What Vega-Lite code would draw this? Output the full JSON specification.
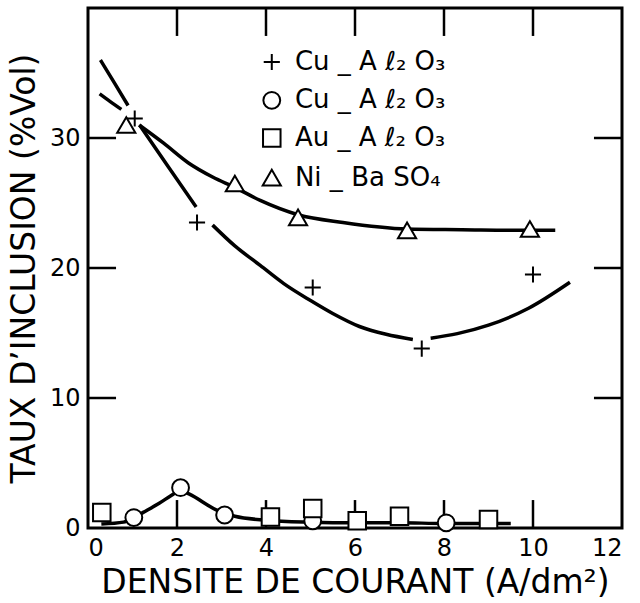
{
  "$schema": "https://vega.github.io/schema/vega-lite/v6.json",
  "width": 534,
  "height": 520,
  "autosize": {"type": "none"},
  "padding": {"left": 88, "top": 8, "right": 18, "bottom": 75},
  "background": "white",
  "config": {
    "font": "DejaVu Sans",
    "view": {"stroke": "black", "strokeWidth": 3},
    "axis": {
      "domain": false,
      "grid": false,
      "ticks": false,
      "labelPadding": 8,
      "labelColor": "black",
      "labelFont": "DejaVu Sans",
      "labelFontSize": 24,
      "labelFontWeight": "normal",
      "titleColor": "black",
      "titleFont": "DejaVu Sans",
      "titleFontSize": 33,
      "titleFontWeight": "normal"
    },
    "text": {"font": "DejaVu Sans", "fontSize": 26, "color": "black", "align": "left", "baseline": "middle"},
    "point": {"filled": false, "color": "black", "fill": "white", "strokeWidth": 2, "opacity": 1}
  },
  "datasets": {
    "pts": [
      {"s": "p", "x": 1.05, "y": 31.5},
      {"s": "p", "x": 2.45, "y": 23.5},
      {"s": "p", "x": 5.05, "y": 18.5},
      {"s": "p", "x": 7.5, "y": 13.8},
      {"s": "p", "x": 10.0, "y": 19.5},
      {"s": "c", "x": 1.03, "y": 0.8},
      {"s": "c", "x": 2.08, "y": 3.1},
      {"s": "c", "x": 3.07, "y": 1.0},
      {"s": "c", "x": 5.05, "y": 0.55},
      {"s": "c", "x": 8.05, "y": 0.4},
      {"s": "s", "x": 0.31, "y": 1.2},
      {"s": "s", "x": 4.1, "y": 0.85},
      {"s": "s", "x": 5.05, "y": 1.5},
      {"s": "s", "x": 6.05, "y": 0.55},
      {"s": "s", "x": 7.0, "y": 0.9},
      {"s": "s", "x": 9.0, "y": 0.65},
      {"s": "t", "x": 0.86, "y": 31.0},
      {"s": "t", "x": 3.3, "y": 26.5},
      {"s": "t", "x": 4.72, "y": 23.9},
      {"s": "t", "x": 7.17, "y": 22.9},
      {"s": "t", "x": 9.93, "y": 23.0}
    ],
    "leg": [
      {"s": "p", "label": "Cu _ A ℓ₂ O₃", "x": 4.13, "tx": 4.65, "y": 35.85},
      {"s": "c", "label": "Cu _ A ℓ₂ O₃", "x": 4.13, "tx": 4.65, "y": 32.9},
      {"s": "s", "label": "Au _ A ℓ₂ O₃", "x": 4.13, "tx": 4.65, "y": 30.0},
      {"s": "t", "label": "Ni _ Ba SO₄", "x": 4.13, "tx": 4.65, "y": 26.95}
    ],
    "crv": [
      {"g": "p1", "x": 0.28, "y": 36.0},
      {"g": "p1", "x": 0.6, "y": 34.2},
      {"g": "p1", "x": 0.9, "y": 32.5},
      {"g": "p2", "x": 1.16, "y": 31.0},
      {"g": "p2", "x": 1.8, "y": 27.8},
      {"g": "p2", "x": 2.43, "y": 24.7},
      {"g": "p3", "x": 2.8, "y": 23.3},
      {"g": "p3", "x": 3.3, "y": 21.7},
      {"g": "p3", "x": 3.87, "y": 20.2},
      {"g": "p3", "x": 4.4, "y": 18.8},
      {"g": "p3", "x": 5.0, "y": 17.5},
      {"g": "p3", "x": 5.5, "y": 16.5},
      {"g": "p3", "x": 6.1, "y": 15.5},
      {"g": "p3", "x": 6.7, "y": 14.9},
      {"g": "p3", "x": 7.3, "y": 14.5},
      {"g": "p4", "x": 7.7, "y": 14.6},
      {"g": "p4", "x": 8.3, "y": 14.95},
      {"g": "p4", "x": 9.0, "y": 15.6},
      {"g": "p4", "x": 9.9, "y": 16.9},
      {"g": "p4", "x": 10.83, "y": 18.9},
      {"g": "t1", "x": 0.26, "y": 33.4},
      {"g": "t1", "x": 0.5, "y": 32.8},
      {"g": "t1", "x": 0.75, "y": 32.2},
      {"g": "t2", "x": 1.15, "y": 31.0},
      {"g": "t2", "x": 1.7, "y": 29.6},
      {"g": "t2", "x": 2.25, "y": 28.1},
      {"g": "t2", "x": 2.8, "y": 27.0},
      {"g": "t2", "x": 3.3, "y": 26.2},
      {"g": "t2", "x": 3.87, "y": 25.2},
      {"g": "t2", "x": 4.72, "y": 24.1},
      {"g": "t2", "x": 5.73, "y": 23.5},
      {"g": "t2", "x": 7.17, "y": 23.0},
      {"g": "t2", "x": 8.4, "y": 22.95},
      {"g": "t2", "x": 9.93, "y": 22.9},
      {"g": "t2", "x": 10.5, "y": 22.9},
      {"g": "b", "x": 0.3, "y": 0.3},
      {"g": "b", "x": 0.8, "y": 0.45},
      {"g": "b", "x": 1.03, "y": 0.8},
      {"g": "b", "x": 1.24, "y": 1.2},
      {"g": "b", "x": 1.6, "y": 1.9},
      {"g": "b", "x": 1.87, "y": 2.5},
      {"g": "b", "x": 2.08, "y": 2.9},
      {"g": "b", "x": 2.28, "y": 2.6},
      {"g": "b", "x": 2.88, "y": 1.4},
      {"g": "b", "x": 3.3, "y": 0.9},
      {"g": "b", "x": 4.0, "y": 0.6},
      {"g": "b", "x": 5.0, "y": 0.45},
      {"g": "b", "x": 6.0, "y": 0.4},
      {"g": "b", "x": 7.0, "y": 0.4},
      {"g": "b", "x": 8.0, "y": 0.35},
      {"g": "b", "x": 9.5, "y": 0.35}
    ],
    "tk": [
      {"id": "l10", "x": 0, "y": 10}, {"id": "l10", "x": 0.63, "y": 10},
      {"id": "l20", "x": 0, "y": 20}, {"id": "l20", "x": 0.63, "y": 20},
      {"id": "l30", "x": 0, "y": 30}, {"id": "l30", "x": 0.63, "y": 30},
      {"id": "r10", "x": 12, "y": 10}, {"id": "r10", "x": 11.37, "y": 10},
      {"id": "r20", "x": 12, "y": 20}, {"id": "r20", "x": 11.37, "y": 20},
      {"id": "r30", "x": 12, "y": 30}, {"id": "r30", "x": 11.37, "y": 30}
    ],
    "vt": [
      {"x": 1.972, "x2": 2.028, "y": 0, "y2": 2.15},
      {"x": 3.972, "x2": 4.028, "y": 0, "y2": 2.15},
      {"x": 5.972, "x2": 6.028, "y": 0, "y2": 2.15},
      {"x": 7.972, "x2": 8.028, "y": 0, "y2": 2.15},
      {"x": 9.972, "x2": 10.028, "y": 0, "y2": 2.15},
      {"x": 1.972, "x2": 2.028, "y": 37.85, "y2": 40},
      {"x": 3.972, "x2": 4.028, "y": 37.85, "y2": 40},
      {"x": 5.972, "x2": 6.028, "y": 37.85, "y2": 40},
      {"x": 7.972, "x2": 8.028, "y": 37.85, "y2": 40},
      {"x": 9.972, "x2": 10.028, "y": 37.85, "y2": 40}
    ]
  },
  "resolve": {"axis": {"x": "independent", "y": "independent"}},
  "layer": [
    {
      "data": {"name": "crv"},
      "mark": {"type": "line", "color": "black", "strokeWidth": 3.5, "interpolate": "monotone"},
      "encoding": {
        "x": {"field": "x", "type": "quantitative", "scale": {"domain": [0, 12], "nice": false},
          "axis": {"orient": "bottom", "values": [0, 2, 4, 6, 8, 10, 12], "title": "DENSITE  DE  COURANT  (A/dm²)", "titlePadding": 6}},
        "y": {"field": "y", "type": "quantitative", "scale": {"domain": [0, 40], "nice": false},
          "axis": {"orient": "left", "values": [0, 10, 20, 30], "title": "TAUX  D’INCLUSION   (%Vol)", "titlePadding": 8}},
        "detail": {"field": "g"}
      }
    },
    {
      "data": {"name": "tk"},
      "mark": {"type": "line", "color": "black", "strokeWidth": 2.5, "interpolate": "linear"},
      "encoding": {
        "x": {"field": "x", "type": "quantitative", "axis": null},
        "y": {"field": "y", "type": "quantitative", "axis": null},
        "detail": {"field": "id"}
      }
    },
    {
      "data": {"name": "vt"},
      "mark": {"type": "rect", "color": "black", "opacity": 1},
      "encoding": {
        "x": {"field": "x", "type": "quantitative", "axis": null},
        "x2": {"field": "x2"},
        "y": {"field": "y", "type": "quantitative", "axis": null},
        "y2": {"field": "y2"}
      }
    },
    {
      "data": {"name": "pts"},
      "mark": {"type": "point"},
      "encoding": {
        "x": {"field": "x", "type": "quantitative", "axis": null},
        "y": {"field": "y", "type": "quantitative", "axis": null},
        "shape": {"field": "s", "type": "nominal", "legend": null,
          "scale": {"domain": ["p", "c", "s", "t"], "range": ["M-1,0L1,0M0,-1L0,1", "circle", "square", "triangle-up"]}},
        "size": {"field": "s", "type": "nominal", "legend": null,
          "scale": {"domain": ["p", "c", "s", "t"], "range": [260, 330, 230, 400]}}
      }
    },
    {
      "data": {"name": "leg"},
      "mark": {"type": "point"},
      "encoding": {
        "x": {"field": "x", "type": "quantitative", "axis": null},
        "y": {"field": "y", "type": "quantitative", "axis": null},
        "shape": {"field": "s", "type": "nominal", "legend": null},
        "size": {"field": "s", "type": "nominal", "legend": null}
      }
    },
    {
      "data": {"name": "leg"},
      "mark": {"type": "text"},
      "encoding": {
        "x": {"field": "tx", "type": "quantitative", "axis": null},
        "y": {"field": "y", "type": "quantitative", "axis": null},
        "text": {"field": "label"}
      }
    }
  ]
}
